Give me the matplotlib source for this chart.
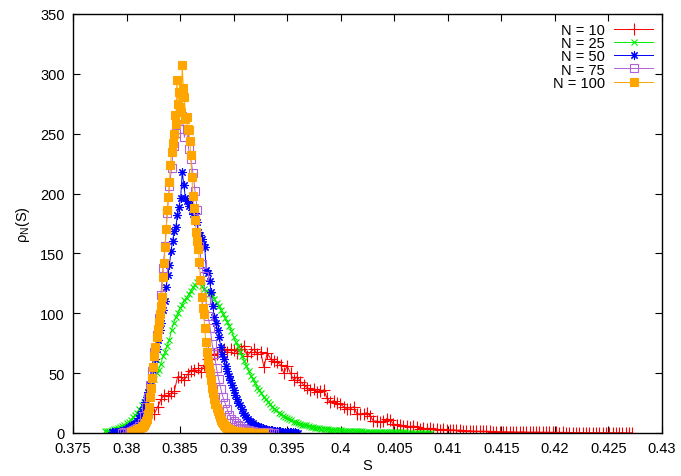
import numpy as np
import matplotlib
matplotlib.use("Agg")
import matplotlib.pyplot as plt
from matplotlib.ticker import FuncFormatter

plt.rcParams['font.family'] = ['Liberation Sans', 'DejaVu Sans']
plt.rcParams['mathtext.default'] = 'regular'

labels = ['N = 10', 'N = 25', 'N = 50', 'N = 75', 'N = 100']

# histogram start / bin width / heights
s0_10, ds_10 = 0.3826, 0.00031
rho_10 = [16, 22, 28, 32, 31, 33, 35, 47, 47, 44,
          49, 52, 53, 54, 51, 57, 62, 65, 66, 66,
          69, 70, 68, 70, 69, 67, 70, 73, 64, 68,
          70, 66, 68, 55, 67, 62, 60, 59, 57, 50,
          56, 50, 44, 47, 43, 40, 38, 36, 37, 34,
          35, 36, 29, 26, 27, 25, 24, 22, 20, 20,
          22, 16, 16, 16, 17, 14, 10, 10, 9, 10,
          12, 11, 7.5, 7, 7, 6, 6, 5, 6, 5,
          3.5, 4, 3.5, 4, 3.3, 3, 2.5, 3.3, 2.5, 2.5,
          2.8, 2.2, 2.5, 2, 1.8, 2, 1.5, 1.6, 1.4,
          1.5, 1.3, 1.4, 1.2, 1.2, 1.1, 1.0, 1.1, 0.9, 0.9,
          0.8, 0.8, 0.9, 0.7, 0.7, 0.6, 0.7, 0.6, 0.6, 0.5,
          0.5, 0.5, 0.5, 0.4, 0.5, 0.4, 0.4, 0.4, 0.3, 0.4,
          0.3, 0.3, 0.3, 0.3, 0.3, 0.2, 0.3, 0.2, 0.2, 0.2,
          0.2, 0.2, 0.2, 0.2, 0.1, 0.1]

s0_25, ds_25 = 0.3780, 0.0002
rho_25 = [1.5, 2, 2, 2.5, 3, 3.5, 4, 5, 5.5, 7,
          8, 9.5, 11, 13.5, 15, 17, 20, 23, 26, 29,
          34, 38, 42, 45, 50, 53, 58, 64, 68, 73,
          78, 86, 92, 97, 100, 104, 107, 111, 113, 116,
          119, 122, 124, 126, 127, 123, 120, 119, 118, 116,
          115, 112, 109, 106, 103, 99, 96, 93, 89, 85,
          80, 76, 73, 68, 64, 60, 56, 52, 48, 45,
          42, 38, 36, 33, 30, 28, 26, 24, 22, 20,
          19, 17, 16, 14.5, 13.5, 12.5, 11.5, 10.5, 9.5, 9,
          8, 7.5, 7, 6.5, 7, 5.5, 5, 4.7, 4.4, 4,
          3.8, 3.6, 3.4, 3.3, 3.0, 2.9, 2.7, 2.6, 2.4, 2.3,
          2.1, 2.0, 1.9, 1.8, 1.8, 1.6, 1.6, 1.5, 1.4, 1.3,
          1.3, 1.2, 1.2, 1.1, 1.0, 1.0, 0.9, 0.9, 0.8, 0.8,
          0.8, 0.7, 0.7, 0.7, 0.6, 0.6, 0.6, 0.5, 0.5, 0.5,
          0.5, 0.4, 0.4, 0.4, 0.4, 0.3, 0.3, 0.3, 0.3, 0.3,
          0.2, 0.2, 0.2]

s0_50, ds_50 = 0.3786, 0.00015
rho_50 = [0.5, 0.7, 0.8, 1, 1.2, 1.5, 1.8, 2, 2.5, 3,
          4, 5, 6, 6.5, 7.5, 8.5, 10, 12.5, 15, 18,
          22, 26, 30, 34, 40, 45, 53, 62, 70, 78,
          86, 92, 103, 110, 122, 132, 140, 152, 160, 169,
          172, 182, 189, 196, 218, 207, 196, 194, 190, 191,
          186, 183, 184, 176, 168, 165, 162, 158, 155, 136,
          134, 127, 118, 106, 97, 92, 86, 80, 72, 66,
          62, 56, 52, 48, 44, 40, 36, 32, 28, 25,
          23, 20, 17, 15, 13, 11.5, 10, 9, 8, 7,
          6, 5.5, 5, 4.5, 4, 3.6, 3.2, 2.9, 2.6, 2.3,
          2.1, 1.9, 1.7, 1.6, 1.4, 1.3, 1.2, 1.1, 1.0, 0.9,
          0.8, 0.7, 0.6, 0.6, 0.5, 0.4, 0.3]

s0_75, ds_75 = 0.3796, 0.0002
rho_75 = [0.4, 0.6, 0.9, 1.2, 1.6, 2.2, 3, 4, 5.5, 8,
          14, 22, 30, 40, 52, 68, 82, 96, 115, 138,
          156, 184, 206, 221, 240, 251, 262, 254, 265, 247,
          254, 237, 229, 217, 202, 186, 156, 141, 131, 111,
          98, 88, 74, 66, 54, 45, 37, 30, 25, 20,
          15, 12, 10, 8, 6.5, 5.5, 4.5, 3.5, 2.7, 2.2,
          1.8, 1.5, 1.2, 1.0, 0.9, 0.8, 0.7, 0.6, 0.5, 0.4,
          0.3, 0.3]

s0_100, ds_100 = 0.3804, 0.0001
rho_100 = [0.5, 0.7, 1.0, 1.3, 1.6, 2.0, 2.5, 3.0, 3.5, 4.5,
           5, 6, 7, 8.5, 10, 12, 16, 22, 30, 38,
           46, 55, 64, 72, 80, 87, 93, 99, 106, 114,
           130, 142, 155, 170, 186, 197, 210, 224, 235, 242,
           250, 266, 258, 295, 275, 285, 272, 268, 307, 288,
           281, 262, 264, 254, 253, 244, 232, 214, 198, 188,
           178, 168, 160, 154, 143, 128, 114, 104, 99, 88,
           76, 68, 60, 55, 50, 44, 38, 33, 28, 24,
           21, 18, 16, 13.5, 11, 9.5, 8, 7, 6, 5,
           4.3, 3.6, 3.1, 2.7, 2.3, 2, 1.7, 1.5, 1.3, 1.1,
           1.0, 0.9, 0.9, 0.8, 0.7, 0.7, 0.6, 0.6, 0.5, 0.5,
           0.5, 0.4, 0.4, 0.4, 0.3, 0.3, 0.3, 0.3, 0.2, 0.2,
           0.2, 0.2, 0.1, 0.1, 0.1]

series = [
    (s0_10, ds_10, rho_10, '#ff0000', '+', 8, 'full'),
    (s0_25, ds_25, rho_25, '#00ee00', 'x', 5, 'full'),
    (s0_50, ds_50, rho_50, '#0000ff', (8, 2, 0), 6, 'full'),
    (s0_75, ds_75, rho_75, '#b060d8', 's', 6, 'none'),
    (s0_100, ds_100, rho_100, '#ffa500', 's', 5.5, 'full'),
]

fig = plt.figure(figsize=(6.81, 4.77), dpi=100)
ax = fig.add_axes([73 / 681, 43 / 477, 589 / 681, 419 / 477])

for (s0, ds, rho, col, mk, ms, fill), lab in zip(series, labels):
    s = s0 + ds * np.arange(len(rho))
    ax.plot(s, rho, color=col, lw=0.7, marker=mk, ms=ms, mew=0.8,
            fillstyle=fill, label=lab)

ax.set_xlim(0.375, 0.43)
ax.set_ylim(0, 350)
ax.set_xticks(np.arange(0.375, 0.4301, 0.005))
ax.set_yticks(np.arange(0, 351, 50))
ax.xaxis.set_major_formatter(FuncFormatter(lambda v, p: '%g' % round(v, 3)))
ax.tick_params(direction='in', top=True, right=True, length=5, width=0.8,
               labelsize=10.5)
ax.tick_params(axis='x', pad=6)
ax.tick_params(axis='y', pad=6)
for sp in ax.spines.values():
    sp.set_linewidth(1.0)

ax.set_xlabel('S', fontsize=10.5, labelpad=2)
ax.set_ylabel(r'$\rho_N(S)$', fontsize=10.5, labelpad=6)

ax.legend(loc='upper right', frameon=False, markerfirst=False, fontsize=10.5,
          handlelength=2.7, handletextpad=0.6, labelspacing=-0.05,
          borderaxespad=0.5, borderpad=0.1, numpoints=1)

fig.savefig('out.png', dpi=100)
